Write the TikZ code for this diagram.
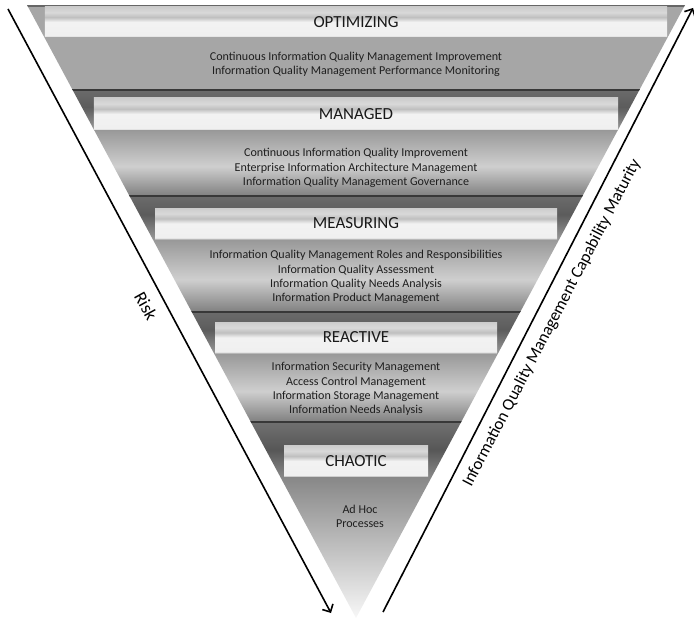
\documentclass[tikz,border=0pt]{standalone}
\usepackage{fontspec}
\setmainfont{Carlito}
\usepackage{tikz}
\usetikzlibrary{arrows.meta}

%Заливки полос и плашек
\pgfdeclareverticalshading{bandshade}{100bp}{color(0bp)=(black!50); color(25bp)=(black!50); color(39bp)=(black!19); color(56bp)=(black!40); color(67bp)=(black!64); color(75bp)=(black!58); color(100bp)=(black!58)}
\pgfdeclareverticalshading{lastshade}{100bp}{color(0bp)=(black!3); color(25bp)=(black!3); color(61bp)=(black!47); color(68bp)=(black!66); color(75bp)=(black!56); color(100bp)=(black!56)}
\pgfdeclareverticalshading{boxshade}{100bp}{color(0bp)=(black!28); color(25bp)=(black!28); color(27bp)=(black!6); color(50bp)=(black!5); color(58bp)=(black!25); color(66bp)=(black!15); color(75bp)=(black!20); color(100bp)=(black!20)}

\tikzset{
  levelbox/.style={shade, shading=boxshade, inner sep=0pt, font=\fontsize{17}{20}\selectfont, text=black!90},
  leveltext/.style={align=center, font=\fontsize{12.1}{14.3}\selectfont, text=black!88},
  bandline/.style={line width=2.2bp, black!78},
  sideline/.style={line width=1.6bp, black},
  sidelabel/.style={font=\fontsize{17}{20}\selectfont}
}

\begin{document}
\begin{tikzpicture}[x=1bp,y=-1bp,>={Straight Barb[length=6bp,width=12bp]}]
\useasboundingbox (0,0) rectangle (694,618);

%Построение полос воронки
\begin{scope}
\clip (27,5) -- (685,5) -- (356,618) -- cycle;
\fill[black!35] (0,5) rectangle (694,90);
\shade[shading=bandshade] (0,90) rectangle (694,196);
\shade[shading=bandshade] (0,196) rectangle (694,312);
\shade[shading=bandshade] (0,312) rectangle (694,422);
\shade[shading=lastshade] (0,422) rectangle (694,618);
\draw[line width=2bp, black!60] (0,6) -- (694,6);
\foreach \y in {90,196,312,422}
  \draw[bandline] (0,\y) -- (694,\y);
\end{scope}

%Плашки уровней
\node[levelbox, minimum width=622bp, minimum height=30bp] (optimizing) at (356,22) {OPTIMIZING};
\node[levelbox, minimum width=524bp, minimum height=32bp] (managed) at (356,114) {MANAGED};
\node[levelbox, minimum width=402bp, minimum height=31bp] (measuring) at (356,223.5) {MEASURING};
\node[levelbox, minimum width=282bp, minimum height=31bp] (reactive) at (356,337.5) {REACTIVE};
\node[levelbox, minimum width=144bp, minimum height=31bp] (chaotic) at (356,461) {CHAOTIC};

%Тексты уровней
\node[leveltext] (optimizingtext) at (356,64.5) {Continuous Information Quality Management Improvement\\Information Quality Management Performance Monitoring};
\node[leveltext] (managedtext) at (356,168) {Continuous Information Quality Improvement\\Enterprise Information Architecture Management\\Information Quality Management Governance};
\node[leveltext] (measuringtext) at (356,277) {Information Quality Management Roles and Responsibilities\\Information Quality Assessment\\Information Quality Needs Analysis\\Information Product Management};
\node[leveltext] (reactivetext) at (356,389) {Information Security Management\\Access Control Management\\Information Storage Management\\Information Needs Analysis};
\node[leveltext] (chaotictext) at (360,516) {Ad Hoc\\Processes};

%Боковые стрелки
\coordinate (riskstart) at (8,9);
\coordinate (riskend) at (331,613);
\draw[sideline,->] (riskstart) -- (riskend);
\coordinate (maturitystart) at (383,612);
\coordinate (maturityend) at (693,8);
\draw[sideline,->] (maturitystart) -- (maturityend);
\node[sidelabel, rotate=-61, font=\fontsize{18}{20}\selectfont] (risk) at (146,306) {Risk};
\node[sidelabel, rotate=62.5] (maturity) at (552,323) {Information Quality Management Capability Maturity};

\end{tikzpicture}
\end{document}
